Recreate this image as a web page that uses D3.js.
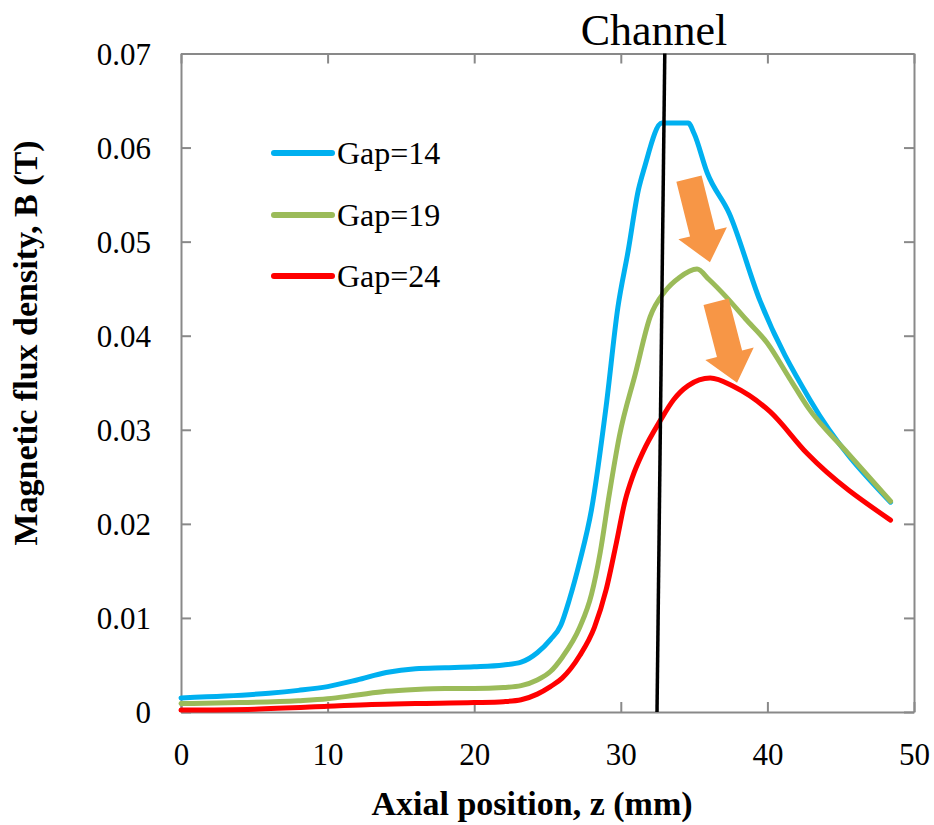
<!DOCTYPE html>
<html>
<head>
<meta charset="utf-8">
<script src="https://cdn.jsdelivr.net/npm/d3@7"></script>
<style>
  body { margin: 0; background: white; }
</style>
</head>
<body>
<script>
// data
const zBlue = [0, 3, 6, 8, 10, 12, 14, 16, 18, 20, 22, 23.2, 24.3, 25.2, 25.9, 26.5, 27.2, 28, 29, 29.8, 30.5, 31.2, 31.6, 32.8, 34.6, 35.0, 35.9, 37.4, 39.5, 42.9, 48.4];
const bBlue = [0.0015, 0.0017, 0.0020, 0.0023, 0.0027, 0.0034, 0.0042, 0.0046, 0.0047, 0.0048, 0.0050, 0.0053, 0.0063, 0.0077, 0.0092, 0.0120, 0.0160, 0.0215, 0.0325, 0.0430, 0.0490, 0.0555, 0.0578, 0.0626, 0.0626, 0.0615, 0.0573, 0.0530, 0.0437, 0.0332, 0.0223];

const zGreen = [0, 4, 8, 10, 12, 14, 16, 18, 20, 22, 23.2, 24.3, 25.2, 26, 27.2, 28, 28.6, 29.2, 29.9, 31, 32, 33, 34, 35.2, 36, 37.2, 38.5, 40, 41.5, 42.8, 45.5, 48.4];
const bGreen = [0.0009, 0.0010, 0.0012, 0.0014, 0.0018, 0.0022, 0.0024, 0.0025, 0.0025, 0.0026, 0.0028, 0.0034, 0.0043, 0.0058, 0.0090, 0.0125, 0.0170, 0.0230, 0.0293, 0.0360, 0.0420, 0.0447, 0.0462, 0.0471, 0.0460, 0.0441, 0.0418, 0.0392, 0.0355, 0.0323, 0.0275, 0.0224];

const zRed = [0, 5, 10, 13, 16, 20, 22, 23.2, 24.3, 25.2, 26, 27.2, 28.2, 29, 29.7, 30.3, 30.8, 31.5, 32.7, 33.6, 34.6, 36.1, 37.7, 40.2, 42.7, 48.4];
const bRed = [0.0002, 0.0003, 0.0006, 0.0008, 0.0009, 0.0010, 0.0011, 0.0013, 0.0019, 0.0027, 0.0036, 0.0060, 0.0090, 0.0130, 0.0180, 0.0225, 0.0250, 0.0276, 0.0310, 0.0332, 0.0347, 0.0355, 0.0346, 0.0319, 0.0275, 0.0204];

const seriesNames = ["Gap=14", "Gap=19", "Gap=24"];
const seriesColors = ["#00B0F0", "#9BBB59", "#FF0000"];
const xTicks = [0, 10, 20, 30, 40, 50];
const yTicks = [0, 0.01, 0.02, 0.03, 0.04, 0.05, 0.06, 0.07];

// channel marker and arrows, in data units
const channelZ = [32.47, 33.0];
const arrows = [
  { z0: 34.65, b0: 0.0567, z1: 36.08, b1: 0.0478 },
  { z0: 36.5, b0: 0.0436, z1: 37.93, b1: 0.0350 }
];

const width = 934, height = 825;
const plotL = 181, plotR = 914, plotT = 53.5, plotB = 712;
const axisColor = "#898989";
const serif = "Liberation Serif";

const svg = d3.select("body").append("svg")
  .attr("width", width)
  .attr("height", height);

const x = d3.scaleLinear().domain([0, 50]).range([plotL, plotR]);
const y = d3.scaleLinear().domain([0, 0.07]).range([plotB, plotT]);

// frame with inward ticks on all four sides
function styleAxis(g) {
  g.select(".domain").attr("stroke", axisColor).attr("stroke-width", 2);
  g.selectAll(".tick line").attr("stroke", axisColor).attr("stroke-width", 2);
  g.selectAll(".tick text")
    .style("font-family", serif)
    .style("font-size", "31px")
    .attr("fill", "black");
}

svg.append("g")
  .attr("transform", `translate(0,${plotB})`)
  .call(d3.axisBottom(x).tickValues(xTicks).tickSizeInner(-10).tickSizeOuter(0).tickFormat(d3.format("d")))
  .call(styleAxis)
  .call(g => g.selectAll(".tick text").attr("y", 53).attr("dy", 0));

svg.append("g")
  .attr("transform", `translate(0,${plotT})`)
  .call(d3.axisTop(x).tickValues(xTicks).tickSizeInner(-10).tickSizeOuter(0).tickFormat(""))
  .call(styleAxis);

svg.append("g")
  .attr("transform", `translate(${plotL},0)`)
  .call(d3.axisLeft(y).tickValues(yTicks).tickSizeInner(-10).tickSizeOuter(0)
    .tickFormat(d => d === 0 ? "0" : d3.format(".2f")(d)))
  .call(styleAxis)
  .call(g => g.selectAll(".tick text").attr("x", -30).attr("dy", "0.34em"));

svg.append("g")
  .attr("transform", `translate(${plotR},0)`)
  .call(d3.axisRight(y).tickValues(yTicks).tickSizeInner(-10).tickSizeOuter(0).tickFormat(""))
  .call(styleAxis);

// curves
const line = d3.line()
  .x(d => x(d[0]))
  .y(d => y(d[1]))
  .curve(d3.curveMonotoneX);

const series = [
  d3.zip(zBlue, bBlue),
  d3.zip(zGreen, bGreen),
  d3.zip(zRed, bRed)
];

series.forEach((pts, i) => {
  svg.append("path")
    .datum(pts)
    .attr("d", line)
    .attr("fill", "none")
    .attr("stroke", seriesColors[i])
    .attr("stroke-width", 5)
    .attr("stroke-linejoin", "round")
    .attr("stroke-linecap", "round");
});

// channel line
svg.append("line")
  .attr("x1", x(channelZ[0])).attr("y1", y(0))
  .attr("x2", x(channelZ[1])).attr("y2", y(0.07))
  .attr("stroke", "black")
  .attr("stroke-width", 3.5);

svg.append("text")
  .attr("x", 654).attr("y", 45)
  .attr("text-anchor", "middle")
  .style("font-family", serif)
  .style("font-size", "44px")
  .text("Channel");

// orange block arrows
arrows.forEach(a => {
  let x0 = x(a.z0), y0 = y(a.b0), x1 = x(a.z1), y1 = y(a.b1);
  let dx = x1 - x0, dy = y1 - y0;
  let len = Math.hypot(dx, dy);
  let ux = dx / len, uy = dy / len;
  let px = -uy, py = ux;
  let shaftW = 13, headW = 25, headL = 30;
  let bx = x1 - ux * headL, by = y1 - uy * headL;
  let pts = [
    [x0 + px * shaftW, y0 + py * shaftW],
    [bx + px * shaftW, by + py * shaftW],
    [bx + px * headW, by + py * headW],
    [x1, y1],
    [bx - px * headW, by - py * headW],
    [bx - px * shaftW, by - py * shaftW],
    [x0 - px * shaftW, y0 - py * shaftW]
  ];
  svg.append("polygon")
    .attr("points", pts.map(p => p.join(",")).join(" "))
    .attr("fill", "#F79646");
});

// legend
const legendY = [153, 215, 276];
seriesNames.forEach((name, i) => {
  svg.append("line")
    .attr("x1", 274).attr("x2", 332)
    .attr("y1", legendY[i]).attr("y2", legendY[i])
    .attr("stroke", seriesColors[i])
    .attr("stroke-width", 6)
    .attr("stroke-linecap", "round");
  svg.append("text")
    .attr("x", 337).attr("y", legendY[i] + 11)
    .style("font-family", serif)
    .style("font-size", "32px")
    .text(name);
});

// axis titles
svg.append("text")
  .attr("x", 532).attr("y", 815)
  .attr("text-anchor", "middle")
  .style("font-family", serif)
  .style("font-size", "34px")
  .style("font-weight", "bold")
  .text("Axial position, z (mm)");

svg.append("text")
  .attr("transform", "translate(37,343) rotate(-90)")
  .attr("text-anchor", "middle")
  .style("font-family", serif)
  .style("font-size", "34px")
  .style("font-weight", "bold")
  .text("Magnetic flux density, B (T)");
</script>
</body>
</html>
